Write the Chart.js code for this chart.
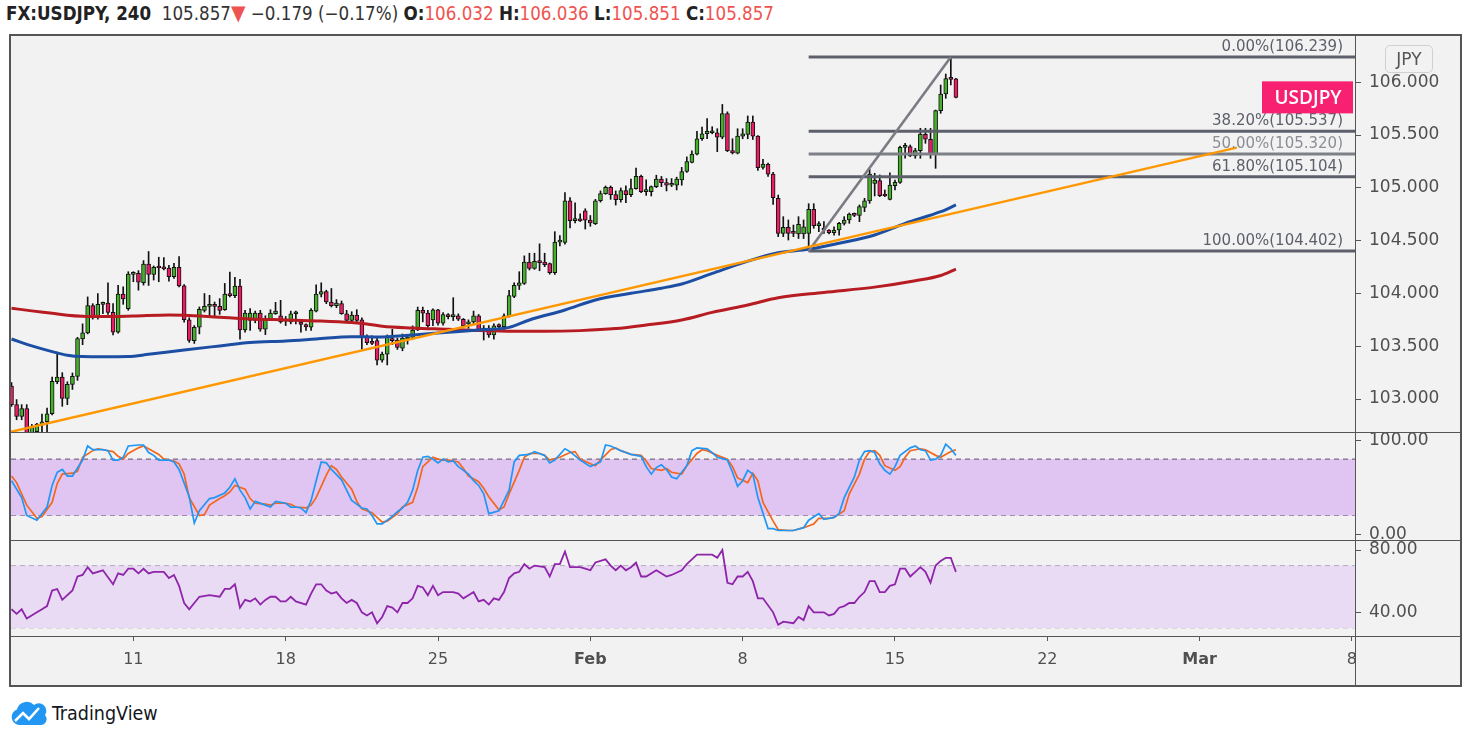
<!DOCTYPE html>
<html lang="en">
<head>
<meta charset="UTF-8">
<title>FX:USDJPY, 240</title>
<script src="https://cdn.jsdelivr.net/npm/chart.js"></script>
<style>
  body { margin:0; background:#fff; width:1471px; height:741px; position:relative; overflow:hidden; font-family:"DejaVu Sans", sans-serif; }
  #hdr { position:absolute; left:6px; top:2px; font-family:"Liberation Sans Narrow","DejaVu Sans Condensed",sans-serif; font-size:18.6px; color:#333; white-space:nowrap; line-height:22px; }
  #hdr b { color:#222; }
  #hdr .dn { color:#ef5350; }
  #hdr .tri { color:#ef5350; font-size:21px; }
  #frame { position:absolute; left:9px; top:34px; width:1449px; height:649px; border:2px solid #555; background:#f2f2f2; }
  canvas { position:absolute; left:11px; }
  .hl { position:absolute; left:11px; width:1449px; height:1px; background:#555; }
  #vl { position:absolute; left:1355px; top:36px; width:1px; height:649px; background:#555; }
  #corner { position:absolute; left:1356px; top:637px; width:104px; height:48px; background:#f2f2f2; }
  #jpy { position:absolute; left:1385px; top:45px; width:46px; height:26px; border:1px solid #cfcfd4; border-radius:5px; font-size:17px; color:#555; text-align:center; line-height:26px; }
  #logo { position:absolute; left:11px; top:700px; display:flex; align-items:center; font-family:"Liberation Sans Narrow","DejaVu Sans Condensed",sans-serif; font-size:19.5px; color:#131722; }
  #logo svg { margin-right:5px; }
</style>
</head>
<body>
  <div id="hdr"><b>FX:USDJPY, 240</b>&nbsp; 105.857<span class="tri">▼</span> −0.179 (−0.17%) <b>O:</b><span class="dn">106.032</span> <b>H:</b><span class="dn">106.036</span> <b>L:</b><span class="dn">105.851</span> <b>C:</b><span class="dn">105.857</span></div>
  <div id="frame"></div>
  <canvas id="priceChart" width="1449" height="396" style="top:36px"></canvas>
  <canvas id="stochChart" width="1449" height="107" style="top:433px"></canvas>
  <canvas id="rsiChart" width="1449" height="144" style="top:541px"></canvas>
  <div class="hl" style="top:432px"></div>
  <div class="hl" style="top:540px"></div>
  <div id="corner"></div>
  <div class="hl" style="top:636px"></div>
  <div id="vl"></div>
  <div id="jpy">JPY</div>
  <div id="logo">
    <svg width="36" height="26" viewBox="0 0 36 26"><path d="M8 25 A8 8 0 0 1 6 9.5 A10 10 0 0 1 23 5 A7.5 7.5 0 0 1 34 15 A6 6 0 0 1 29 25 Z" fill="#2196f3"/><polyline points="4,21 12,13 18,19 28,8" fill="none" stroke="#fff" stroke-width="2.6"/></svg>
    <span>TradingView</span>
  </div>

  <script>
    // 4h candles, index 0 = first bar shown; [open, high, low, close]
    const candles = [
      [103.123,103.155,102.931,102.947],[102.947,102.995,102.804,102.836],[102.836,102.947,102.804,102.909],[102.909,102.947,102.661,102.676],
      [102.676,102.760,102.660,102.740],[102.692,102.770,102.660,102.763],[102.756,102.858,102.676,102.785],[102.785,102.915,102.676,102.861],
      [102.861,103.209,102.850,103.167],[103.164,103.445,103.145,103.209],[103.209,103.250,102.931,103.005],[103.005,103.164,102.947,103.139],
      [103.139,103.247,103.091,103.215],[103.215,103.585,103.177,103.572],[103.569,103.712,103.515,103.626],[103.626,103.967,103.617,103.884],
      [103.884,103.903,103.757,103.782],[103.782,103.999,103.757,103.897],[103.897,103.919,103.808,103.910],[103.910,104.101,103.802,103.821],
      [103.821,103.903,103.607,103.633],[103.633,104.076,103.623,103.993],[103.993,104.063,103.897,103.948],[103.856,104.206,103.840,104.184],
      [104.181,104.206,104.111,104.190],[104.190,104.216,104.031,104.107],[104.101,104.311,104.079,104.279],[104.279,104.397,104.076,104.181],
      [104.181,104.260,104.127,104.248],[104.248,104.343,104.111,104.241],[104.241,104.340,104.222,104.232],[104.241,104.267,104.117,104.158],
      [104.158,104.286,104.142,104.248],[104.248,104.350,104.063,104.072],[104.072,104.085,103.728,103.751],[103.751,103.770,103.537,103.556],
      [103.553,103.696,103.527,103.680],[103.680,103.872,103.617,103.849],[103.840,103.999,103.824,103.878],[103.878,103.983,103.776,103.884],
      [103.884,103.919,103.782,103.878],[103.878,103.951,103.802,103.840],[103.846,104.095,103.840,103.993],[103.993,104.203,103.967,103.980],
      [103.980,104.152,103.961,104.069],[104.069,104.133,103.566,103.655],[103.655,103.840,103.633,103.814],[103.744,103.856,103.649,103.814],
      [103.744,103.833,103.722,103.814],[103.814,103.840,103.642,103.661],[103.661,103.789,103.610,103.757],[103.757,103.846,103.744,103.814],
      [103.808,103.916,103.802,103.833],[103.789,103.935,103.719,103.731],[103.738,103.782,103.696,103.744],[103.731,103.833,103.712,103.808],
      [103.808,103.833,103.712,103.814],[103.728,103.751,103.633,103.706],[103.706,103.712,103.649,103.684],[103.680,103.856,103.649,103.840],
      [103.833,104.082,103.824,103.993],[103.993,104.101,103.967,104.018],[104.018,104.031,103.903,103.919],[103.919,104.047,103.872,103.884],
      [103.884,103.942,103.865,103.910],[103.903,103.929,103.802,103.808],[103.808,103.840,103.728,103.744],[103.744,103.827,103.719,103.795],
      [103.795,103.846,103.728,103.744],[103.751,103.770,103.473,103.585],[103.594,103.607,103.515,103.534],[103.547,103.598,103.515,103.527],
      [103.553,103.585,103.323,103.368],[103.368,103.445,103.349,103.425],[103.425,103.607,103.323,103.585],[103.569,103.661,103.515,103.553],
      [103.559,103.578,103.470,103.489],[103.482,103.616,103.457,103.578],[103.568,103.600,103.520,103.584],[103.584,103.693,103.568,103.654],
      [103.654,103.871,103.648,103.839],[103.839,103.871,103.731,103.814],[103.814,103.839,103.680,103.696],[103.750,103.855,103.696,103.845],
      [103.845,103.850,103.700,103.718],[103.718,103.820,103.700,103.801],[103.801,103.810,103.760,103.780],[103.780,103.960,103.743,103.788],
      [103.788,103.807,103.743,103.756],[103.756,103.763,103.680,103.696],[103.712,103.750,103.670,103.731],[103.731,103.833,103.712,103.788],
      [103.788,103.801,103.648,103.654],[103.654,103.696,103.559,103.673],[103.673,103.696,103.584,103.607],[103.607,103.712,103.568,103.693],
      [103.693,103.712,103.660,103.686],[103.686,103.807,103.642,103.788],[103.788,104.030,103.775,103.979],[103.973,104.101,103.960,104.078],
      [104.075,104.206,104.037,104.101],[104.094,104.356,104.085,104.298],[104.298,104.381,104.222,104.238],[104.238,104.381,104.228,104.305],
      [104.305,104.470,104.215,104.292],[104.298,104.381,104.254,104.273],[104.282,104.289,104.183,104.196],[104.196,104.585,104.180,104.486],
      [104.486,104.547,104.451,104.489],[104.483,104.955,104.467,104.878],[104.878,104.907,104.620,104.690],[104.690,104.859,104.668,104.706],
      [104.706,104.754,104.681,104.687],[104.783,104.802,104.610,104.693],[104.696,104.738,104.636,104.668],[104.661,104.891,104.652,104.878],
      [104.878,104.971,104.865,104.945],[104.945,105.018,104.939,105.006],[105.006,105.018,104.891,104.936],[104.936,104.971,104.837,104.888],
      [104.888,104.999,104.865,104.974],[104.974,105.018,104.859,104.936],[104.936,105.082,104.916,104.993],[104.993,105.187,104.987,105.108],
      [105.108,105.120,104.955,104.964],[104.964,105.076,104.929,104.971],[104.964,105.018,104.923,105.012],[105.012,105.120,105.002,105.082],
      [105.082,105.108,105.012,105.050],[105.050,105.088,104.971,105.025],[105.025,105.088,105.012,105.044],[105.025,105.101,104.980,105.082],
      [105.076,105.194,105.025,105.155],[105.155,105.293,105.146,105.248],[105.242,105.350,105.235,105.321],[105.318,105.535,105.312,105.465],
      [105.465,105.576,105.449,105.512],[105.512,105.656,105.465,105.535],[105.522,105.579,105.512,105.535],[105.522,105.560,105.343,105.480],
      [105.480,105.790,105.465,105.704],[105.704,105.720,105.343,105.353],[105.353,105.465,105.321,105.331],[105.328,105.560,105.321,105.490],
      [105.490,105.560,105.465,105.512],[105.506,105.681,105.465,105.624],[105.624,105.681,105.458,105.490],[105.490,105.496,105.165,105.191],
      [105.194,105.270,105.178,105.226],[105.222,105.235,105.108,105.130],[105.130,105.146,104.843,104.907],[104.901,104.932,104.538,104.569],
      [104.569,104.727,104.538,104.626],[104.626,104.696,104.506,104.569],[104.576,104.648,104.538,104.569],[104.563,104.727,104.520,104.655],
      [104.563,104.696,104.520,104.632],[104.569,104.850,104.402,104.796],[104.796,104.850,104.617,104.642],[104.642,104.680,104.585,104.648],
      [104.620,104.680,104.569,104.600],[104.601,104.605,104.563,104.575],[104.575,104.632,104.553,104.601],[104.601,104.673,104.553,104.664],
      [104.664,104.727,104.648,104.696],[104.696,104.762,104.664,104.752],[104.752,104.762,104.727,104.740],[104.740,104.838,104.680,104.822],
      [104.815,104.901,104.774,104.876],[104.876,105.175,104.853,105.131],[105.043,105.138,104.923,105.074],[105.068,105.122,104.917,104.926],
      [104.932,104.980,104.917,104.923],[104.891,105.143,104.885,105.027],[105.021,105.074,104.980,105.052],[105.052,105.396,105.043,105.384],
      [105.384,105.422,105.280,105.396],[105.390,105.406,105.296,105.302],[105.302,105.374,105.280,105.352],[105.352,105.564,105.280,105.510],
      [105.507,105.564,105.422,105.460],[105.460,105.564,105.280,105.321],[105.321,105.737,105.185,105.731],[105.731,105.974,105.706,105.889],
      [105.889,106.078,105.848,106.034],[106.034,106.239,105.974,106.028],[106.032,106.036,105.851,105.857]
    ];

    // moving averages: [bar index, price]
    const maBlue = [[0,103.569],[4,103.503],[8,103.449],[11,103.415],[14,103.402],[18,103.400],[23,103.402],[27,103.424],[34,103.465],
      [41,103.503],[47,103.535],[54,103.550],[60,103.569],[67,103.591],[72,103.588],[79,103.607],[86,103.632],[92,103.654],[98,103.679],
      [102,103.749],[109,103.843],[115,103.938],[122,104.001],[128,104.050],[132,104.090],[138,104.190],[144,104.290],[151,104.386],
      [157,104.418],[163,104.475],[170,104.553],[176,104.664],[183,104.774],[186,104.838]];
    const maRed = [[0,103.860],[4,103.835],[8,103.812],[11,103.794],[14,103.784],[18,103.781],[24,103.787],[31,103.797],[34,103.794],
      [41,103.775],[47,103.759],[54,103.749],[60,103.740],[67,103.724],[70,103.711],[73,103.690],[79,103.673],[86,103.660],[92,103.648],
      [99,103.641],[105,103.641],[112,103.648],[119,103.667],[125,103.701],[132,103.749],[138,103.821],[145,103.891],[151,103.960],
      [160,104.010],[170,104.060],[178,104.120],[183,104.170],[186,104.230]];

    // trend line and fibonacci retracement
    const trendX = [-0.2, 241.3];
    const trendY = [102.689, 105.381];
    const fibPct = ['0.00%', '38.20%', '50.00%', '61.80%', '100.00%'];
    const fibLevel = [106.239, 105.537, 105.320, 105.104, 104.402];
    const fibFrom = [157, 104.402];
    const fibTo = [185, 106.239];

    // stochastic %K / %D and RSI: [bar index, value]
    const stochK = [[0,57],[2,39],[3,20],[5,15],[7,29],[8,52],[9,66],[10,69],[11,62],[12,62],[14,79],[15,94],[16,90],[18,90],[19,89],
      [20,79],[21,79],[22,82],[23,94],[25,95],[26,95],[27,87],[28,84],[29,79],[31,79],[32,77],[33,69],[35,40],[36,12],[37,25],[39,38],
      [40,39],[42,44],[43,50],[44,59],[45,47],[46,39],[47,27],[48,35],[50,31],[51,29],[52,35],[54,33],[55,29],[56,29],[57,28],[58,23],
      [59,36],[60,57],[61,77],[62,76],[63,69],[65,58],[66,47],[67,36],[69,28],[70,27],[71,20],[72,11],[73,11],[75,19],[76,24],[77,28],
      [78,34],[79,47],[80,68],[81,82],[82,83],[83,80],[84,76],[85,80],[86,77],[87,78],[88,72],[90,64],[91,57],[92,52],[93,43],[94,22],
      [96,25],[98,47],[99,77],[100,84],[102,85],[103,88],[105,84],[106,76],[107,79],[109,91],[110,88],[112,79],[114,72],[116,77],[117,95],
      [118,94],[120,89],[121,87],[122,85],[124,83],[125,72],[126,64],[127,71],[128,74],[129,69],[130,61],[131,59],[133,73],[134,89],
      [135,92],[137,91],[138,87],[139,82],[141,79],[142,66],[143,51],[144,57],[145,68],[146,64],[147,39],[149,6],[150,6],[151,4],[153,4],
      [154,4],[156,7],[157,15],[159,22],[160,16],[162,18],[163,22],[164,39],[166,61],[167,79],[168,88],[169,89],[170,87],[171,75],[172,68],
      [173,64],[174,72],[175,84],[177,92],[178,94],[179,90],[180,89],[181,79],[182,80],[183,84],[184,96],[185,91],[186,84]];
    const stochD = [[0,62],[1,55],[3,31],[5,17],[6,19],[8,34],[9,54],[10,64],[12,65],[13,67],[14,82],[16,89],[17,91],[18,90],[20,88],
      [21,83],[22,80],[23,86],[25,92],[26,94],[27,91],[29,85],[30,80],[32,78],[33,75],[34,64],[35,39],[37,20],[38,21],[39,31],[41,38],
      [42,41],[43,45],[44,52],[46,48],[47,38],[48,33],[50,32],[51,31],[52,33],[54,33],[55,32],[56,29],[58,28],[59,31],[60,39],[62,63],
      [63,73],[64,69],[65,61],[67,48],[68,35],[69,27],[71,23],[72,18],[73,13],[74,14],[76,22],[77,29],[79,34],[80,50],[81,72],[83,82],
      [84,80],[85,79],[86,79],[88,77],[89,70],[90,62],[92,56],[93,49],[94,40],[96,26],[97,29],[98,43],[100,68],[101,82],[102,86],[104,86],
      [105,84],[106,79],[108,82],[110,87],[111,88],[112,80],[114,75],[115,73],[116,79],[118,90],[119,92],[120,89],[122,85],[124,84],
      [125,78],[126,70],[128,68],[129,70],[130,66],[132,64],[133,73],[135,86],[136,90],[137,89],[139,84],[141,80],[142,72],[143,60],
      [145,55],[146,65],[147,57],[148,34],[150,14],[151,5],[153,4],[154,4],[156,7],[158,11],[159,17],[161,17],[162,18],[164,25],[165,43],
      [167,64],[168,80],[169,88],[170,89],[171,84],[172,73],[174,68],[175,72],[176,82],[177,89],[179,91],[180,90],[182,84],[183,82],
      [185,88],[186,90]];
    const rsi = [[0,42],[1,39],[2,42],[3,36],[5,40],[6,42],[7,44],[8,54],[9,55],[10,48],[12,54],[13,63],[14,64],[15,69],[16,65],[18,67],
      [20,58],[21,65],[22,64],[23,68],[24,68],[25,65],[26,68],[27,65],[28,66],[30,66],[31,62],[32,64],[33,57],[34,46],[35,42],[36,46],
      [37,50],[39,51],[41,50],[42,55],[43,55],[44,58],[45,43],[46,48],[47,47],[48,49],[49,45],[50,48],[51,50],[52,50],[53,47],[54,47],
      [55,50],[56,47],[58,45],[59,52],[60,58],[61,58],[62,54],[63,52],[64,53],[65,49],[66,46],[67,48],[68,46],[69,40],[70,38],[71,40],
      [72,33],[73,37],[74,44],[75,43],[76,40],[77,46],[78,46],[79,49],[80,57],[81,56],[82,51],[83,57],[84,51],[85,53],[86,53],[87,53],
      [88,52],[89,49],[90,51],[91,53],[92,47],[93,48],[94,45],[95,49],[96,48],[97,53],[98,62],[99,65],[100,66],[101,71],[102,68],[103,70],
      [105,69],[106,63],[107,71],[108,71],[109,79],[110,69],[112,69],[113,68],[114,67],[115,72],[117,74],[118,70],[119,67],[120,70],
      [121,67],[122,69],[123,72],[124,63],[125,63],[127,67],[129,63],[130,64],[132,67],[133,71],[134,74],[135,77],[136,77],[138,77],
      [139,75],[140,80],[141,59],[142,58],[143,63],[144,63],[145,66],[146,60],[147,49],[148,49],[150,40],[151,32],[152,34],[154,33],
      [155,37],[156,35],[157,44],[158,40],[160,40],[161,38],[162,39],[163,43],[164,44],[165,46],[166,46],[167,50],[168,53],[169,60],
      [170,60],[171,53],[172,53],[173,57],[174,58],[175,68],[176,68],[177,63],[178,66],[179,69],[180,66],[181,59],[182,70],[183,73],
      [184,75],[185,75],[186,66]];

    // axes
    const dateTickIdx = [24, 54, 84, 114, 144, 174, 204, 234, 264];
    const dateTickLabels = ['11', '18', '25', 'Feb', '8', '15', '22', 'Mar', '8'];
    const priceTicks = [103, 103.5, 104, 104.5, 105, 105.5, 106];
    const stochTicks = [0, 100];
    const stochBand = [20, 80];
    const rsiTicks = [40, 80];
    const rsiBand = [30, 70];
    const xMin = -0.1, xMax = 264.6;

    const pts = arr => arr.map(p => ({ x: p[0], y: p[1] }));
    const hline = v => [{ x: xMin, y: v }, { x: xMax, y: v }];
    const axisFont = { family: 'DejaVu Sans', size: 17 };

    function rightAxis(min, max, ticks, digits) {
      return {
        position: 'right', min: min, max: max,
        afterBuildTicks: s => { s.ticks = ticks.map(v => ({ value: v })); },
        ticks: { callback: v => Number(v).toFixed(digits), font: axisFont, color: '#4f4f4f', padding: 8 },
        grid: { drawOnChartArea: false, tickLength: 6, tickColor: '#555' },
        border: { display: false },
        afterFit: s => { s.width = 105; s.paddingTop = 0; s.paddingBottom = 0; }
      };
    }
    const hiddenX = { type: 'linear', min: xMin, max: xMax, display: false, offset: false };
    const baseOpts = {
      responsive: false, animation: false, events: [],
      layout: { padding: 0 },
      plugins: { legend: { display: false }, tooltip: { enabled: false } }
    };

    const fibText = {
      id: 'fibText',
      afterDatasetsDraw(chart) {
        const { ctx, chartArea, scales } = chart;
        const y = scales.y;
        ctx.save();
        ctx.font = '15px "DejaVu Sans"';
        ctx.textAlign = 'right';
        ctx.textBaseline = 'alphabetic';
        fibLevel.forEach((lv, k) => {
          ctx.fillStyle = k === 2 ? '#8c8e95' : '#5d606b';
          ctx.fillText(fibPct[k] + '(' + lv.toFixed(3) + ')', chartArea.right - 12, y.getPixelForValue(lv) - 6);
        });
        // last price tag
        const lastClose = candles[candles.length - 1][3];
        const py = y.getPixelForValue(lastClose);
        ctx.fillStyle = '#f72071';
        ctx.fillRect(chartArea.right - 93, py - 16, 91, 32);
        ctx.fillStyle = '#fff';
        ctx.font = '600 19px "Open Sans"';
        ctx.textAlign = 'center';
        ctx.textBaseline = 'middle';
        ctx.fillText('USDJPY', chartArea.right - 47, py + 1);
        ctx.restore();
      }
    };

    const fibSets = fibLevel.map((lv, k) => ({
      type: 'line', data: [{ x: fibFrom[0], y: lv }, { x: xMax, y: lv }],
      borderColor: k === 2 ? '#7e8087' : '#5d606b', borderWidth: 3, pointRadius: 0, order: 2
    }));

    new Chart(document.getElementById('priceChart'), {
      type: 'bar',
      data: {
        datasets: [
          { type: 'line', data: trendX.map((x, k) => ({ x: x, y: trendY[k] })), borderColor: '#ff9800', borderWidth: 2.5, pointRadius: 0, order: 1 },
          { type: 'line', data: [{ x: fibFrom[0], y: fibFrom[1] }, { x: fibTo[0], y: fibTo[1] }], borderColor: '#7b7b83', borderWidth: 2.6, pointRadius: 0, order: 2 },
          ...fibSets,
          { type: 'line', data: pts(maBlue), borderColor: '#1c4fa3', borderWidth: 3, pointRadius: 0, cubicInterpolationMode: 'monotone', order: 3 },
          { type: 'line', data: pts(maRed), borderColor: '#b71c22', borderWidth: 3, pointRadius: 0, cubicInterpolationMode: 'monotone', order: 3 },
          {
            data: candles.map((c, i) => ({ x: i, y: [c[0], c[3]] })),
            backgroundColor: candles.map(c => c[3] >= c[0] ? '#45b02a' : '#ec1c64'),
            borderColor: '#111', borderWidth: 1, borderSkipped: false,
            barThickness: 4, minBarLength: 2, grouped: false, order: 5
          },
          {
            data: candles.map((c, i) => ({ x: i, y: [c[2], c[1]] })),
            backgroundColor: '#111', borderWidth: 0, barThickness: 1, grouped: false, order: 6
          }
        ]
      },
      options: Object.assign({}, baseOpts, {
        scales: { x: hiddenX, y: rightAxis(102.688, 106.438, priceTicks, 3) }
      }),
      plugins: [fibText]
    });

    function bandSets(band, fill, dash) {
      return [
        { type: 'line', data: hline(band[1]), borderColor: dash, borderWidth: 1, borderDash: [5, 4], pointRadius: 0, fill: '+1', backgroundColor: fill, order: 10 },
        { type: 'line', data: hline(band[0]), borderColor: dash, borderWidth: 1, borderDash: [5, 4], pointRadius: 0, fill: false, order: 10 }
      ];
    }

    new Chart(document.getElementById('stochChart'), {
      type: 'line',
      data: {
        datasets: [
          ...bandSets(stochBand, '#e0c5f3', '#5b5066'),
          { data: pts(stochD), borderColor: '#f4661b', borderWidth: 1.7, pointRadius: 0, order: 2 },
          { data: pts(stochK), borderColor: '#2196f3', borderWidth: 1.7, pointRadius: 0, order: 1 }
        ]
      },
      options: Object.assign({}, baseOpts, {
        scales: { x: hiddenX, y: rightAxis(-6.1, 107.8, stochTicks, 2) }
      })
    });

    new Chart(document.getElementById('rsiChart'), {
      type: 'line',
      data: {
        datasets: [
          ...bandSets(rsiBand, '#e8dbf3', '#b3abbb'),
          { data: pts(rsi), borderColor: '#8e24aa', borderWidth: 1.8, pointRadius: 0, order: 1 }
        ]
      },
      options: Object.assign({}, baseOpts, {
        scales: {
          x: {
            type: 'linear', min: xMin, max: xMax, offset: false, position: 'bottom',
            afterBuildTicks: s => { s.ticks = dateTickIdx.map(v => ({ value: v })); },
            ticks: {
              autoSkip: false, maxRotation: 0, color: '#4f4f4f', padding: 9,
              callback: (v, i) => dateTickLabels[i],
              font: c => ({ family: 'DejaVu Sans', size: 16, weight: /[A-Za-z]/.test(dateTickLabels[c.index] || '') ? 'bold' : 'normal' })
            },
            grid: { drawOnChartArea: false, tickLength: 5, tickColor: '#555' },
            border: { display: false },
            afterFit: s => { s.height = 49; s.paddingLeft = 0; s.paddingRight = 0; }
          },
          y: rightAxis(24.8, 85.8, rsiTicks, 2)
        }
      })
    });
  </script>
</body>
</html>
